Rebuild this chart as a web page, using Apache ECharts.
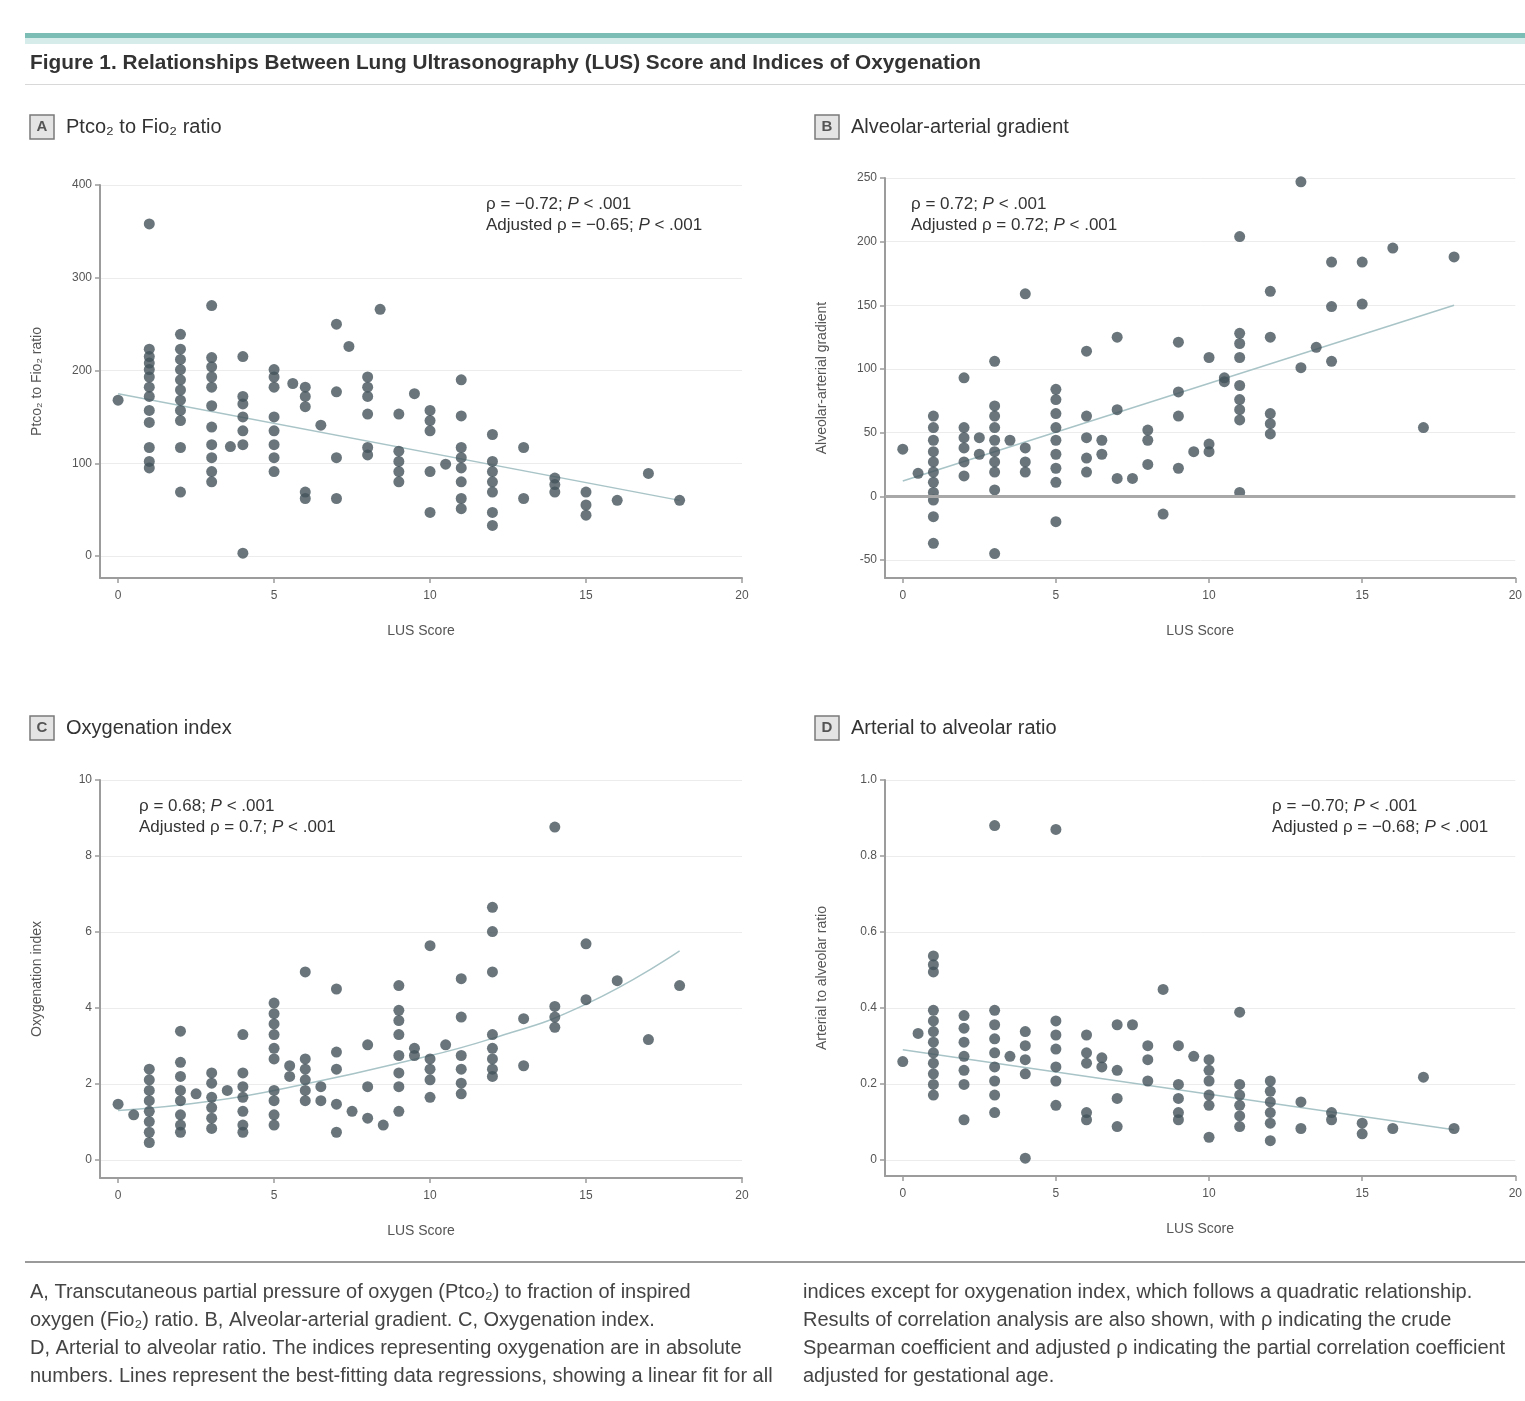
<!DOCTYPE html>
<html><head><meta charset="utf-8">
<script src="https://cdn.jsdelivr.net/npm/echarts@6/dist/echarts.min.js"></script>
<style>html,body{margin:0;padding:0;background:#fff}#c{width:1525px;height:1401px}</style>
</head><body><div id="c"></div>
<script>
// ---------- DATA ----------
const xTicks = [0, 5, 10, 15, 20];
const aTicks = [0, 100, 200, 300, 400];
const bTicks = [-50, 0, 50, 100, 150, 200, 250];
const cTicks = [0, 2, 4, 6, 8, 10];
const dTicks = [0, 0.2, 0.4, 0.6, 0.8, 1.0];

// Panel A: Ptco2 to Fio2 ratio (grouped by LUS score)
const aScore = [0, 1, 2, 3, 3.6, 4, 5, 5.6, 6, 6.5, 7, 7.4, 8, 8.4, 9, 9.5, 10, 10.5, 11, 12, 13, 14, 15, 16, 17, 18];
const aValue = [
  [168],
  [358, 223, 215, 208, 201, 193, 182, 172, 157, 144, 117, 102, 95],
  [239, 223, 212, 201, 190, 179, 168, 157, 146, 117, 69],
  [270, 214, 204, 193, 182, 162, 139, 120, 106, 91, 80],
  [118],
  [215, 172, 164, 150, 135, 120, 3],
  [201, 193, 182, 150, 135, 120, 106, 91],
  [186],
  [182, 172, 161, 69, 62],
  [141],
  [250, 177, 106, 62],
  [226],
  [193, 182, 172, 153, 117, 109],
  [266],
  [153, 113, 102, 91, 80],
  [175],
  [157, 146, 135, 91, 47],
  [99],
  [190, 151, 117, 106, 95, 80, 62, 51],
  [131, 102, 91, 80, 69, 47, 33],
  [117, 62],
  [84, 77, 69],
  [69, 55, 44],
  [60],
  [89],
  [60]
];
const aFitScore = [0, 18];
const aFitValue = [175, 60];

// Panel B: Alveolar-arterial gradient
const bScore = [0, 0.5, 1, 2, 2.5, 3, 3.5, 4, 5, 6, 6.5, 7, 7.5, 8, 8.5, 9, 9.5, 10, 10.5, 11, 12, 13, 13.5, 14, 15, 16, 17, 18];
const bValue = [
  [37],
  [18],
  [63, 54, 44, 35, 27, 19, 11, 3, -3, -16, -37],
  [93, 54, 46, 38, 27, 16],
  [46, 33],
  [106, 71, 63, 54, 44, 35, 27, 19, 5, -45],
  [44],
  [159, 38, 27, 19],
  [84, 76, 65, 54, 44, 33, 22, 11, -20],
  [114, 63, 46, 30, 19],
  [44, 33],
  [125, 68, 14],
  [14],
  [52, 44, 25],
  [-14],
  [121, 82, 63, 22],
  [35],
  [251, 109, 41, 35],
  [93, 90],
  [204, 128, 120, 109, 87, 76, 68, 60, 3],
  [161, 125, 65, 57, 49],
  [247, 101],
  [117],
  [184, 149, 106],
  [184, 151],
  [195],
  [54],
  [188]
];
const bFitScore = [0, 18];
const bFitValue = [12, 150];

// Panel C: Oxygenation index
const cScore = [0, 0.5, 1, 2, 2.5, 3, 3.5, 4, 5, 5.5, 6, 6.5, 7, 7.5, 8, 8.5, 9, 9.5, 10, 10.5, 11, 12, 13, 14, 15, 16, 17, 18];
const cValue = [
  [1.47],
  [1.19],
  [2.39, 2.11, 1.83, 1.56, 1.28, 1.01, 0.73, 0.46],
  [3.39, 2.57, 2.2, 1.83, 1.56, 1.19, 0.92, 0.73],
  [1.74],
  [2.29, 2.02, 1.65, 1.38, 1.1, 0.83],
  [1.83],
  [3.3, 2.29, 1.93, 1.65, 1.28, 0.92, 0.73],
  [4.13, 3.85, 3.58, 3.3, 2.94, 2.66, 1.83, 1.56, 1.19, 0.92],
  [2.48, 2.2],
  [4.95, 2.66, 2.39, 2.11, 1.83, 1.56],
  [1.93, 1.56],
  [4.5, 2.84, 2.39, 1.47, 0.73],
  [1.28],
  [3.03, 1.93, 1.1],
  [0.92],
  [4.59, 3.94, 3.67, 3.3, 2.75, 2.29, 1.93, 1.28],
  [2.94, 2.75],
  [5.64, 2.66, 2.39, 2.11, 1.65],
  [3.03],
  [4.77, 3.76, 2.75, 2.39, 2.02, 1.74],
  [6.65, 6.01, 4.95, 3.3, 2.94, 2.66, 2.39, 2.2],
  [3.72, 2.48],
  [8.76, 4.04, 3.76, 3.49],
  [5.69, 4.22],
  [4.72],
  [3.17],
  [4.59]
];
const cFitScore = [0, 3, 6, 9, 12, 15, 18];
const cFitValue = [1.3, 1.55, 2.0, 2.55, 3.2, 4.1, 5.5];

// Panel D: Arterial to alveolar ratio
const dScore = [0, 0.5, 1, 2, 3, 3.5, 4, 5, 6, 6.5, 7, 7.5, 8, 8.5, 9, 9.5, 10, 11, 12, 13, 14, 15, 16, 17, 18];
const dValue = [
  [0.259],
  [0.333],
  [0.537, 0.514, 0.495, 0.394, 0.366, 0.338, 0.31, 0.282, 0.255, 0.227, 0.199, 0.171],
  [0.38, 0.347, 0.31, 0.273, 0.236, 0.199, 0.106],
  [0.88, 0.394, 0.356, 0.319, 0.282, 0.245, 0.208, 0.171, 0.125],
  [0.273],
  [0.338, 0.301, 0.264, 0.227, 0.005],
  [0.87, 0.366, 0.329, 0.292, 0.245, 0.208, 0.144],
  [0.329, 0.282, 0.255, 0.125, 0.106],
  [0.269, 0.245],
  [0.356, 0.236, 0.162, 0.088],
  [0.356],
  [0.301, 0.264, 0.208],
  [0.449],
  [0.301, 0.199, 0.162, 0.125, 0.106],
  [0.273],
  [0.264, 0.236, 0.208, 0.171, 0.144, 0.06],
  [0.389, 0.199, 0.171, 0.144, 0.116, 0.088],
  [0.208, 0.181, 0.153, 0.125, 0.097, 0.051],
  [0.153, 0.083],
  [0.125, 0.106],
  [0.097, 0.069],
  [0.083],
  [0.218],
  [0.083]
];
const dFitScore = [0, 18];
const dFitValue = [0.29, 0.08];

const titleText = 'Figure 1. Relationships Between Lung Ultrasonography (LUS) Score and Indices of Oxygenation';
const panelTitles = ['Ptco₂ to Fio₂ ratio', 'Alveolar-arterial gradient', 'Oxygenation index', 'Arterial to alveolar ratio'];
const yNames = ['Ptco₂ to Fio₂ ratio', 'Alveolar-arterial gradient', 'Oxygenation index', 'Arterial to alveolar ratio'];
const stats = [
  ['ρ = −0.72; {i|P} < .001', 'Adjusted ρ = −0.65; {i|P} < .001'],
  ['ρ = 0.72; {i|P} < .001', 'Adjusted ρ = 0.72; {i|P} < .001'],
  ['ρ = 0.68; {i|P} < .001', 'Adjusted ρ = 0.7; {i|P} < .001'],
  ['ρ = −0.70; {i|P} < .001', 'Adjusted ρ = −0.68; {i|P} < .001']
];
const captionLeft = [
  'A, Transcutaneous partial pressure of oxygen (Ptco₂) to fraction of inspired',
  'oxygen (Fio₂) ratio. B, Alveolar-arterial gradient. C, Oxygenation index.',
  'D, Arterial to alveolar ratio. The indices representing oxygenation are in absolute',
  'numbers. Lines represent the best-fitting data regressions, showing a linear fit for all'
];
const captionRight = [
  'indices except for oxygenation index, which follows a quadratic relationship.',
  'Results of correlation analysis are also shown, with ρ indicating the crude',
  'Spearman coefficient and adjusted ρ indicating the partial correlation coefficient',
  'adjusted for gestational age.'
];

// ---------- BUILD ----------
const FONT = '"Liberation Sans", Arial, sans-serif';
function pts(scores, values) { const out = []; scores.forEach((s, i) => values[i].forEach(v => out.push([s, v]))); return out; }
function pairs(xs, ys) { return xs.map((x, i) => [x, ys[i]]); }

const panels = [
  { grid: { left: 100, top: 185, width: 642, height: 393 }, yMin: -23.7, yMax: 400, ticks: aTicks, sc: aScore, va: aValue, fx: aFitScore, fy: aFitValue, smooth: false, fmt: v => String(v) },
  { grid: { left: 885, top: 178, width: 642, height: 400 }, yMin: -64.2, yMax: 250, ticks: bTicks, sc: bScore, va: bValue, fx: bFitScore, fy: bFitValue, smooth: false, fmt: v => String(v) },
  { grid: { left: 100, top: 780, width: 642, height: 398 }, yMin: -0.474, yMax: 10, ticks: cTicks, sc: cScore, va: cValue, fx: cFitScore, fy: cFitValue, smooth: true, fmt: v => String(v) },
  { grid: { left: 885, top: 780, width: 642, height: 396 }, yMin: -0.042, yMax: 1.0, ticks: dTicks, sc: dScore, va: dValue, fx: dFitScore, fy: dFitValue, smooth: false, fmt: v => v === 0 ? '0' : v.toFixed(1) }
];

const axisColor = '#9c9c9c';
const grids = [], xAxes = [], yAxes = [], series = [];
panels.forEach((p, i) => {
  grids.push(p.grid);
  xAxes.push({
    type: 'value', gridIndex: i, min: -0.58, max: 20,
    axisLine: { show: true, onZero: false, lineStyle: { color: axisColor, width: 2 } },
    axisTick: { show: true, customValues: xTicks, length: 5, lineStyle: { color: axisColor, width: 1.5 } },
    axisLabel: { customValues: xTicks, color: '#555', fontSize: 12, margin: 12, fontFamily: FONT },
    splitLine: { show: false },
    name: 'LUS Score', nameLocation: 'middle', nameGap: 46,
    nameTextStyle: { color: '#555', fontSize: 14, fontFamily: FONT }
  });
  yAxes.push({
    type: 'value', gridIndex: i, min: p.yMin, max: p.yMax,
    axisLine: { show: true, onZero: false, lineStyle: { color: axisColor, width: 2 } },
    axisTick: { show: true, customValues: p.ticks, length: 5, lineStyle: { color: axisColor, width: 1.5 } },
    axisLabel: { customValues: p.ticks, color: '#555', fontSize: 12, margin: 8, fontFamily: FONT, formatter: p.fmt },
    splitLine: { show: true, lineStyle: { color: '#ececec', width: 1 } },
    name: yNames[i], nameLocation: 'middle', nameGap: 56,
    nameTextStyle: { color: '#555', fontSize: 14, fontFamily: FONT }
  });
  const sc = {
    type: 'scatter', xAxisIndex: i, yAxisIndex: i, data: pts(p.sc, p.va),
    symbol: 'circle', symbolSize: 11, z: 3,
    itemStyle: { color: '#44535a' }
  };
  if (i === 1) {
    sc.markLine = { silent: true, symbol: 'none', label: { show: false },
      lineStyle: { color: '#a8a8a8', width: 3, type: 'solid' }, data: [{ yAxis: 0 }] };
  }
  series.push(sc);
  series.push({
    type: 'line', xAxisIndex: i, yAxisIndex: i, data: pairs(p.fx, p.fy),
    showSymbol: false, smooth: p.smooth, z: 2, silent: true,
    lineStyle: { color: '#a9c4c7', width: 1.5 }
  });
});

const graphic = [];
// top band
graphic.push({ type: 'rect', shape: { x: 25, y: 33, width: 1500, height: 5 }, style: { fill: '#7cbdb6' } });
graphic.push({ type: 'rect', shape: { x: 25, y: 38, width: 1500, height: 6 }, style: { fill: '#d6ecea' } });
graphic.push({ type: 'text', x: 30, y: 63, style: { text: titleText, font: 'bold 20.8px ' + FONT, fill: '#333', textVerticalAlign: 'middle' } });
graphic.push({ type: 'rect', shape: { x: 25, y: 84, width: 1500, height: 1 }, style: { fill: '#d8d8d8' } });

// panel labels
const letters = ['A', 'B', 'C', 'D'];
const labelPos = [[30, 115], [815, 115], [30, 716], [815, 716]];
letters.forEach((L, i) => {
  const [x, y] = labelPos[i];
  graphic.push({ type: 'rect', shape: { x: x, y: y, width: 24, height: 24 }, style: { fill: '#e4e4e4', stroke: '#7a7a7a', lineWidth: 1.5 } });
  graphic.push({ type: 'text', x: x + 12, y: y + 12, style: { text: L, font: 'bold 15px ' + FONT, fill: '#555', textAlign: 'center', textVerticalAlign: 'middle' } });
  graphic.push({ type: 'text', x: x + 36, y: y + 12, style: { text: panelTitles[i], font: '20px ' + FONT, fill: '#333', textVerticalAlign: 'middle' } });
});

// stats annotations
const statPos = [[486, 204], [911, 204], [139, 806], [1272, 806]];
stats.forEach((lines, i) => {
  lines.forEach((t, k) => {
    graphic.push({ type: 'text', x: statPos[i][0], y: statPos[i][1] + k * 21,
      style: { text: t, font: '17px ' + FONT, fill: '#333', textVerticalAlign: 'middle',
        rich: { i: { fontStyle: 'italic', fontSize: 17, fontFamily: FONT, fill: '#333' } } } });
  });
});

// caption
graphic.push({ type: 'rect', shape: { x: 25, y: 1261, width: 1500, height: 2 }, style: { fill: '#9a9a9a' } });
captionLeft.forEach((t, k) => {
  graphic.push({ type: 'text', x: 30, y: 1292 + k * 28, style: { text: t, font: '20px ' + FONT, fill: '#444', textVerticalAlign: 'middle' } });
});
captionRight.forEach((t, k) => {
  graphic.push({ type: 'text', x: 803, y: 1292 + k * 28, style: { text: t, font: '20px ' + FONT, fill: '#444', textVerticalAlign: 'middle' } });
});

const chart = echarts.init(document.getElementById('c'), null, { renderer: 'canvas' });
chart.setOption({
  backgroundColor: '#fff',
  animation: false,
  grid: grids, xAxis: xAxes, yAxis: yAxes, series: series, graphic: graphic
});
</script></body></html>
